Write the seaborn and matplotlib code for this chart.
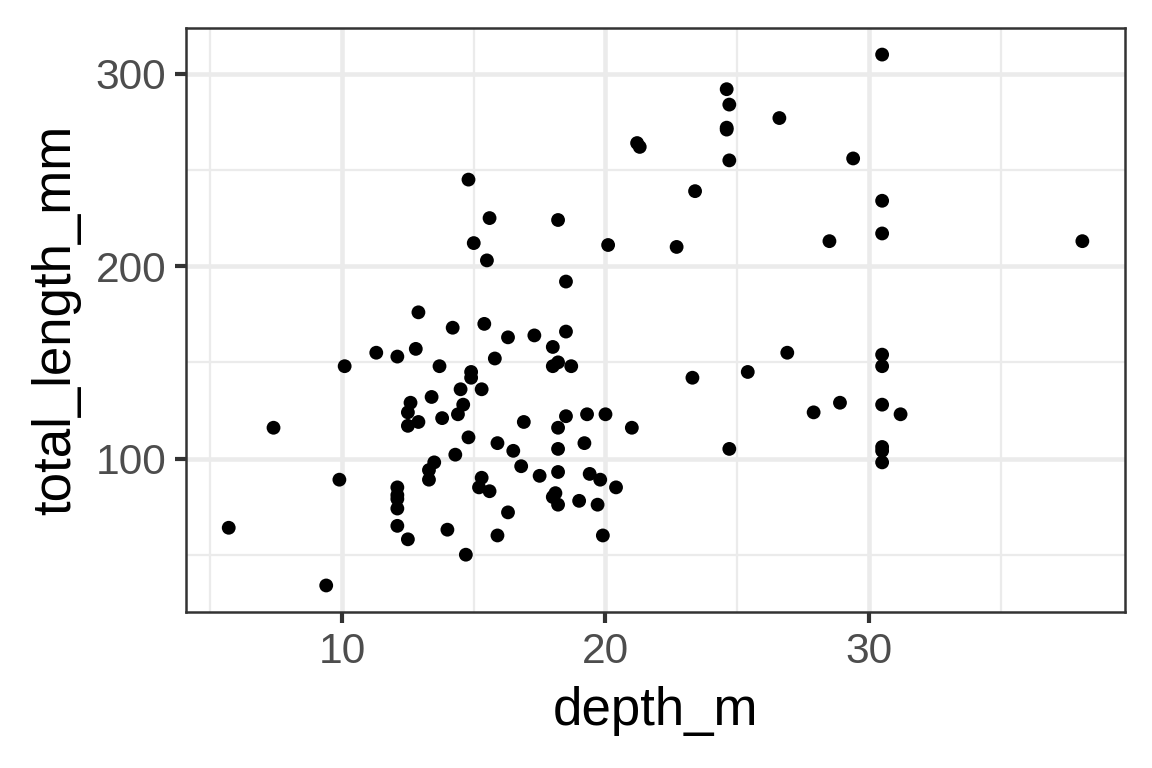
import numpy as np
import matplotlib
matplotlib.use("Agg")
import matplotlib.pyplot as plt
from matplotlib.ticker import MultipleLocator
import pandas as pd
import seaborn as sns

# data
depth_m = [
    30.5, 24.6, 24.7, 26.6, 24.6, 24.6, 21.2, 21.3, 29.4, 24.7,
    14.8, 23.4, 30.5, 15.6, 18.2, 30.5, 38.1, 28.5, 15.0, 20.1,
    22.7, 15.5, 18.5, 12.9, 15.4, 14.2, 18.5, 17.3, 16.3, 18.0,
    12.8, 11.3, 26.9, 30.5, 12.1, 15.8, 18.2, 10.1, 13.7, 18.0,
    18.7, 30.5, 14.9, 25.4, 14.9, 23.3, 14.5, 15.3, 13.4, 12.6,
    28.9, 14.6, 30.5, 12.5, 27.9, 14.4, 19.3, 20.0, 31.2, 18.5,
    13.8, 16.9, 12.9, 12.5, 7.4, 18.2, 21.0, 14.8, 15.9, 19.2,
    30.5, 24.7, 18.2, 30.5, 16.5, 14.3, 13.5, 30.5, 16.8, 13.3,
    18.2, 19.4, 17.5, 15.3, 9.9, 13.3, 19.8, 12.1, 15.2, 20.4,
    15.6, 18.1, 12.1, 18.0, 12.1, 19.0, 18.2, 19.7, 12.1, 16.3,
    12.1, 5.7, 14.0, 15.9, 19.9, 12.5, 14.7, 9.4,
]
total_length_mm = [
    310, 292, 284, 277, 272, 271, 264, 262, 256, 255,
    245, 239, 234, 225, 224, 217, 213, 213, 212, 211,
    210, 203, 192, 176, 170, 168, 166, 164, 163, 158,
    157, 155, 155, 154, 153, 152, 150, 148, 148, 148,
    148, 148, 145, 145, 142, 142, 136, 136, 132, 129,
    129, 128, 128, 124, 124, 123, 123, 123, 123, 122,
    121, 119, 119, 117, 116, 116, 116, 111, 108, 108,
    106, 105, 105, 104, 104, 102, 98, 98, 96, 94,
    93, 92, 91, 90, 89, 89, 89, 85, 85, 85,
    83, 82, 81, 80, 79, 78, 76, 76, 74, 72,
    65, 64, 63, 60, 60, 58, 50, 34,
]

df = pd.DataFrame({"depth_m": depth_m, "total_length_mm": total_length_mm})

sns.set_theme(style="white")
plt.rcParams['font.family'] = ['Liberation Sans', 'DejaVu Sans']

fig = plt.figure(figsize=(3.84, 2.56), dpi=300)
ax = fig.add_axes([0.1615, 0.2031, 0.8151, 0.7604])

sns.scatterplot(data=df, x="depth_m", y="total_length_mm", ax=ax,
                color="black", edgecolor="none", s=11, zorder=3)

# ggplot style 5% expansion
xr = max(depth_m) - min(depth_m)
yr = max(total_length_mm) - min(total_length_mm)
ax.set_xlim(min(depth_m) - 0.05 * xr, max(depth_m) + 0.05 * xr)
ax.set_ylim(min(total_length_mm) - 0.05 * yr, max(total_length_mm) + 0.05 * yr)

ax.xaxis.set_major_locator(MultipleLocator(10))
ax.xaxis.set_minor_locator(MultipleLocator(5))
ax.yaxis.set_major_locator(MultipleLocator(100))
ax.yaxis.set_minor_locator(MultipleLocator(50))

ax.grid(which="major", color="#EBEBEB", linewidth=1.1, zorder=0)
ax.grid(which="minor", color="#EBEBEB", linewidth=0.55, zorder=0)
ax.set_axisbelow(True)

for sp in ax.spines.values():
    sp.set_visible(True)
    sp.set_color("#333333")
    sp.set_linewidth(0.6)

ax.tick_params(which="major", length=2.75, width=1.0, color="#333333",
               labelsize=10.2, labelcolor="#4D4D4D", pad=2.0,
               bottom=True, left=True)
ax.tick_params(which="minor", length=0, bottom=False, left=False)

ax.set_xlabel("depth_m", fontsize=12.7, color="black", labelpad=3.5)
ax.set_ylabel("total_length_mm", fontsize=12.7, color="black", labelpad=3.5)

fig.savefig("out.png", dpi=300)
